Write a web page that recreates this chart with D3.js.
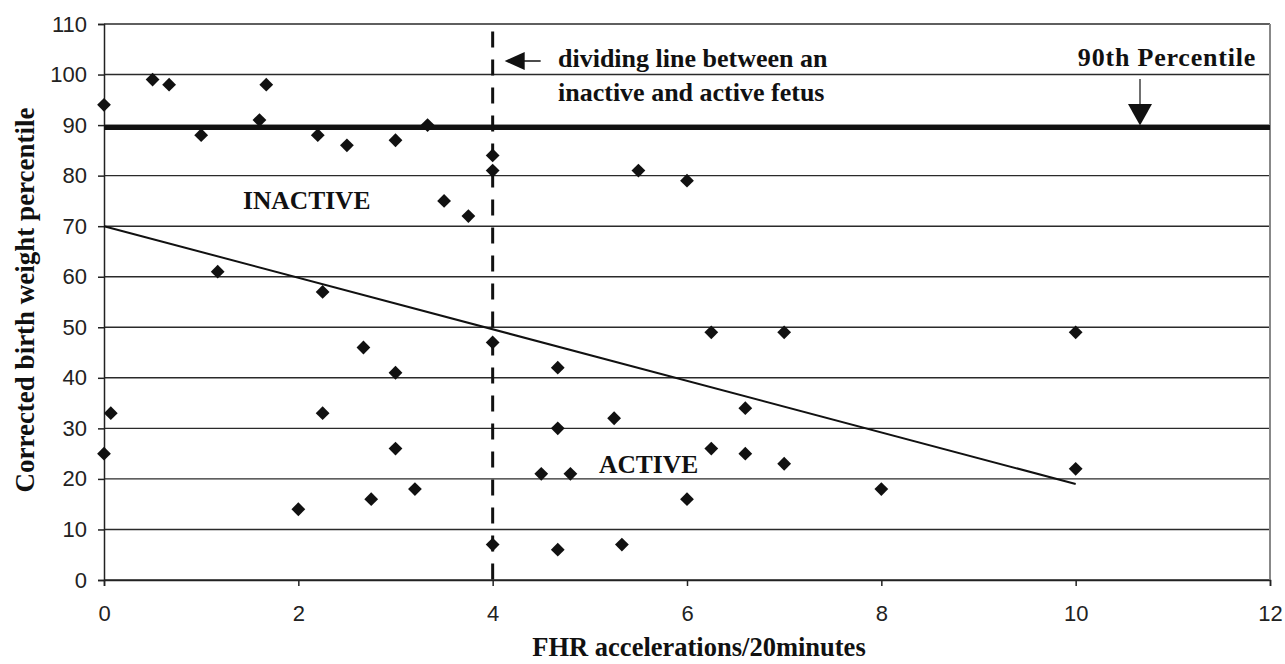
<!DOCTYPE html>
<html lang="en">
<head>
<meta charset="UTF-8">
<title>FHR accelerations vs corrected birth weight percentile</title>
<script src="https://cdn.jsdelivr.net/npm/d3@7"></script>
<style>
  body { margin: 0; background: #fff; }
  svg { display: block; }
  .tick text { font-family: "Liberation Sans", Arial, sans-serif; font-size: 22px; fill: #222; }
  .lbl { font-family: "Liberation Serif", "Times New Roman", serif; font-weight: bold; fill: #111; }
</style>
</head>
<body>
<svg id="chart" width="1285" height="664"></svg>
<script>
  // data
  const accel = [0, 0.5, 0.67, 1.67, 1.6, 1, 2.2, 2.5, 3, 3.33, 1.17, 2.25,
                 4, 4, 5.5, 6, 3.5, 3.75, 0, 0.07, 2.67, 3, 2.25, 3, 3.2, 2.75, 2,
                 4, 4.67, 6.25, 7, 6.6, 5.25, 4.67, 6.25, 6.6, 7, 4.5, 4.8, 6,
                 4, 4.67, 5.33, 10, 10, 8];
  const pct   = [94, 99, 98, 98, 91, 88, 88, 86, 87, 90, 61, 57,
                 84, 81, 81, 79, 75, 72, 25, 33, 46, 41, 33, 26, 18, 16, 14,
                 47, 42, 49, 49, 34, 32, 30, 26, 25, 23, 21, 21, 16,
                 7, 6, 7, 49, 22, 18];
  const trendX = [0, 10];
  const trendY = [70, 19];
  const percentile90 = 89.5;
  const divideAt = 4;
  const xTicks = [0, 2, 4, 6, 8, 10, 12];
  const yTicks = [0, 10, 20, 30, 40, 50, 60, 70, 80, 90, 100, 110];

  const svg = d3.select("#chart");
  const margin = { top: 24, right: 15, bottom: 84, left: 104 };
  const W = 1285, H = 664;

  const x = d3.scaleLinear().domain([0, 12]).range([margin.left, W - margin.right]);
  const y = d3.scaleLinear().domain([0, 110]).range([H - margin.bottom, margin.top]);

  // horizontal gridlines
  svg.append("g")
    .selectAll("line")
    .data(yTicks)
    .join("line")
      .attr("x1", x(0)).attr("x2", x(12))
      .attr("y1", d => y(d)).attr("y2", d => y(d))
      .attr("stroke", "#2a2a2a")
      .attr("stroke-width", 1.4);

  // right border
  svg.append("line")
    .attr("x1", x(12)).attr("x2", x(12))
    .attr("y1", y(110)).attr("y2", y(0))
    .attr("stroke", "#888").attr("stroke-width", 2);

  // axes
  const yAxis = svg.append("g")
    .attr("transform", `translate(${x(0)},0)`)
    .call(d3.axisLeft(y).tickValues(yTicks).tickSize(6).tickPadding(11));
  const xAxis = svg.append("g")
    .attr("transform", `translate(0,${y(0)})`)
    .call(d3.axisBottom(x).tickValues(xTicks).tickSize(6).tickPadding(19));
  [yAxis, xAxis].forEach(g => {
    g.select(".domain").attr("stroke", "#222").attr("stroke-width", 1.5);
    g.selectAll(".tick line").attr("stroke", "#222").attr("stroke-width", 1.5);
  });

  // 90th percentile line
  svg.append("line")
    .attr("x1", x(0)).attr("x2", x(12))
    .attr("y1", y(percentile90)).attr("y2", y(percentile90))
    .attr("stroke", "#111").attr("stroke-width", 5);

  // dividing line
  svg.append("line")
    .attr("x1", x(divideAt)).attr("x2", x(divideAt))
    .attr("y1", y(108.5)).attr("y2", y(0))
    .attr("stroke", "#111").attr("stroke-width", 3)
    .attr("stroke-dasharray", "16 12");

  // trend line
  svg.append("path")
    .datum(d3.zip(trendX, trendY))
    .attr("d", d3.line().x(d => x(d[0])).y(d => y(d[1])))
    .attr("fill", "none")
    .attr("stroke", "#111")
    .attr("stroke-width", 2);

  // points
  const diamond = {
    draw(ctx, size) {
      const r = Math.sqrt(size) / 2;
      ctx.moveTo(0, -r); ctx.lineTo(r, 0); ctx.lineTo(0, r); ctx.lineTo(-r, 0); ctx.closePath();
    }
  };
  svg.append("g")
    .selectAll("path")
    .data(d3.zip(accel, pct))
    .join("path")
      .attr("transform", d => `translate(${x(d[0])},${y(d[1])})`)
      .attr("d", d3.symbol(diamond, 190))
      .attr("fill", "#111");

  // annotations
  const ax = x(divideAt) + 12, ay = 61;
  svg.append("line")
    .attr("x1", ax + 12).attr("x2", ax + 36).attr("y1", ay).attr("y2", ay)
    .attr("stroke", "#111").attr("stroke-width", 1.5);
  svg.append("path")
    .attr("d", `M${ax},${ay} L${ax + 20},${ay - 9} L${ax + 20},${ay + 9} Z`)
    .attr("fill", "#111");

  svg.append("text").attr("class", "lbl")
    .attr("x", 558).attr("y", 67).attr("font-size", 26)
    .text("dividing line between an");
  svg.append("text").attr("class", "lbl")
    .attr("x", 558).attr("y", 101).attr("font-size", 26)
    .text("inactive and active fetus");

  const px = 1140;
  svg.append("text").attr("class", "lbl")
    .attr("x", 1167).attr("y", 66).attr("font-size", 26)
    .attr("text-anchor", "middle")
    .attr("letter-spacing", 0.8)
    .text("90th Percentile");
  svg.append("line")
    .attr("x1", px).attr("x2", px).attr("y1", 79).attr("y2", 106)
    .attr("stroke", "#111").attr("stroke-width", 1.2);
  svg.append("path")
    .attr("d", `M${px - 12},104 L${px + 12},104 L${px},${y(percentile90) - 2} Z`)
    .attr("fill", "#111");

  svg.append("text").attr("class", "lbl")
    .attr("x", 243).attr("y", 209).attr("font-size", 25.5)
    .text("INACTIVE");
  svg.append("text").attr("class", "lbl")
    .attr("x", 599).attr("y", 473).attr("font-size", 25.5)
    .text("ACTIVE");

  // axis titles
  svg.append("text").attr("class", "lbl")
    .attr("x", 699).attr("y", 656).attr("font-size", 26.5)
    .attr("text-anchor", "middle")
    .text("FHR accelerations/20minutes");
  svg.append("text").attr("class", "lbl")
    .attr("transform", `translate(34,300) rotate(-90)`)
    .attr("font-size", 27)
    .attr("text-anchor", "middle")
    .text("Corrected birth weight percentile");
</script>
</body>
</html>
